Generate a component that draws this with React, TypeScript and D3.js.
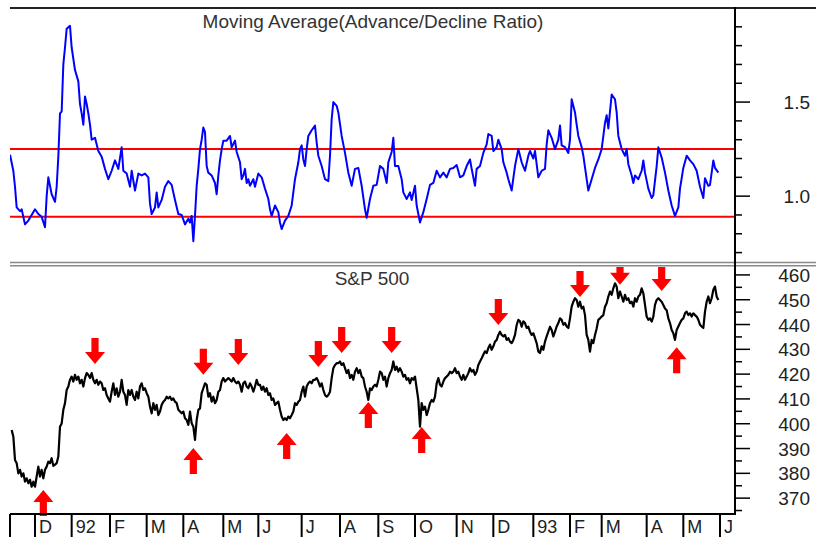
import React from "react";
import * as d3 from "d3";

// Moving average of the advance/decline ratio: [trading session, ratio]
const adPoints: [number, number][] = [
  [-1, 1.22], [1, 1.135], [2, 1.05], [3, 0.94], [5, 0.92], [6, 0.93], [8, 0.85], [10, 0.87], [12, 0.9], [14, 0.93],
  [16, 0.905], [18, 0.89], [20, 0.835], [21, 1.0], [22, 1.1], [24, 1.01], [26, 0.97], [27, 1.05], [28, 1.21], [29, 1.44],
  [30, 1.45], [31, 1.7], [32, 1.79], [33, 1.89], [35, 1.905], [36, 1.79], [38, 1.67], [40, 1.61], [41, 1.49], [42, 1.44],
  [43, 1.38], [44, 1.53], [45, 1.49], [46, 1.44], [47, 1.38], [48, 1.3], [50, 1.31], [52, 1.24], [54, 1.21], [56, 1.145],
  [58, 1.09], [60, 1.135], [62, 1.19], [64, 1.145], [66, 1.26], [67, 1.135], [69, 1.12], [71, 1.05], [72, 1.135], [74, 1.03],
  [76, 1.12], [78, 1.11], [80, 1.12], [82, 1.1], [83, 0.96], [84, 0.905], [86, 0.94], [87, 1.02], [88, 0.94], [90, 0.98],
  [92, 1.05], [94, 1.08], [96, 1.06], [98, 0.98], [100, 0.905], [102, 0.9], [104, 0.85],
  [106, 0.88], [107, 0.86], [108, 0.895], [109, 0.76], [110, 0.895], [111, 1.055], [112, 1.145], [113, 1.25], [114, 1.3], [115, 1.365],
  [116, 1.34], [117, 1.16], [118, 1.125], [120, 1.11], [122, 1.07], [123, 1.01], [124, 1.11], [125, 1.19], [126, 1.25], [127, 1.295],
  [129, 1.295], [131, 1.32], [132, 1.26], [134, 1.295], [135, 1.235], [137, 1.18], [138, 1.09], [139, 1.11], [140, 1.145], [141, 1.07],
  [142, 1.09], [143, 1.055], [145, 1.09], [146, 1.05], [148, 1.12], [150, 1.1], [152, 1.04], [154, 0.985], [155, 0.93], [156, 0.895],
  [158, 0.95], [160, 0.915], [161, 0.86], [162, 0.825], [164, 0.87], [166, 0.895], [168, 0.95], [170, 1.09], [172, 1.18], [173, 1.25],
  [174, 1.27], [175, 1.195], [176, 1.16], [177, 1.25], [178, 1.32], [180, 1.35], [182, 1.375], [183, 1.285], [184, 1.215], [186, 1.16],
  [188, 1.09], [190, 1.08], [191, 1.215], [192, 1.41], [193, 1.5], [195, 1.48], [196, 1.445], [198, 1.32], [200, 1.23], [202, 1.125],
  [204, 1.055], [206, 1.145], [208, 1.15], [210, 1.055], [212, 0.93],
  [213, 0.885], [215, 0.985], [217, 1.055], [219, 1.06], [221, 1.16], [223, 1.145], [225, 1.07], [226, 1.18], [228, 1.235], [229, 1.31],
  [230, 1.16], [232, 1.16], [234, 1.09], [235, 1.02], [237, 0.985], [239, 1.02], [240, 0.98], [242, 1.055], [243, 0.95], [245, 0.86],
  [247, 0.915], [249, 0.985], [251, 1.06], [253, 1.07], [255, 1.135], [257, 1.1], [259, 1.125], [261, 1.1], [263, 1.145], [265, 1.15],
  [267, 1.165], [269, 1.1], [271, 1.11], [273, 1.16], [275, 1.195], [276, 1.145], [278, 1.055], [279, 1.145], [281, 1.16], [283, 1.23],
  [285, 1.275], [286, 1.33], [288, 1.32], [289, 1.24], [291, 1.26], [292, 1.3], [294, 1.25], [295, 1.18], [297, 1.125], [298, 1.09],
  [300, 1.03], [302, 1.16], [304, 1.25], [306, 1.18], [308, 1.135], [310, 1.215], [311, 1.24], [313, 1.2], [314, 1.24], [316, 1.1],
  [318, 1.135], [320, 1.145], [321, 1.275], [322, 1.35],
  [324, 1.31], [326, 1.25], [328, 1.3], [329, 1.375], [330, 1.27], [332, 1.26], [334, 1.23], [335, 1.3], [336, 1.515], [338, 1.445],
  [339, 1.38], [340, 1.32], [342, 1.26], [343, 1.215], [345, 1.09], [346, 1.03], [348, 1.09], [350, 1.15], [352, 1.195], [354, 1.25],
  [356, 1.39], [357, 1.43], [358, 1.36], [360, 1.54], [362, 1.515], [363, 1.445], [364, 1.32], [366, 1.25], [368, 1.215], [369, 1.25],
  [370, 1.17], [372, 1.11], [373, 1.07], [374, 1.11], [376, 1.09], [378, 1.135], [379, 1.19], [380, 1.125], [382, 1.04], [384, 0.99],
  [385, 1.005], [387, 1.16], [388, 1.26], [390, 1.205], [392, 1.125], [394, 1.03], [396, 0.95], [398, 0.895], [400, 0.94], [401, 1.04],
  [403, 1.15], [405, 1.215], [407, 1.19], [409, 1.17], [411, 1.135], [413, 1.05], [415, 0.99], [416, 1.095], [418, 1.055], [419, 1.06],
  [421, 1.19], [422, 1.15], [424, 1.125],
];

// S&P 500 daily closes, one per trading session starting at session 0
const spxCloses: number[] = [
  397.5, 394.8, 385.4, 384.1, 380.0, 381.4, 378.7, 380.0, 376.7, 378.0,
  376.0, 377.4, 374.6, 376.7, 374.6, 378.7, 382.7, 378.7, 381.4, 378.0,
  381.4, 382.7, 384.7, 384.1, 386.1, 383.0, 383.5, 384.1, 386.8, 398.8,
  400.1, 405.6, 408.3, 413.6, 415.0, 417.7, 419.0, 417.0, 419.7, 417.7,
  419.0, 416.3, 417.7, 415.0, 418.4, 420.4, 419.7, 418.4, 420.4, 417.7,
  416.3, 417.7, 415.7, 417.0, 416.3, 413.6, 414.3, 411.6, 410.2, 408.9,
  412.9, 416.3, 411.6, 414.3, 410.9, 412.9, 417.7, 412.9, 411.6, 407.6,
  413.6, 411.6, 413.6, 410.9, 409.6, 412.9, 410.2, 415.0, 416.3, 413.6,
  414.3, 412.3, 410.9, 406.9, 404.2, 408.3, 405.6, 407.6, 403.5, 404.9,
  407.6, 408.9, 409.6, 410.9, 410.2, 410.9, 409.6, 410.2, 408.9, 408.3,
  405.6, 404.9, 404.2, 404.9, 402.2, 401.5, 399.5,
  404.9, 400.2, 398.8, 393.5, 401.5, 405.6, 406.2, 412.3, 414.3, 416.3,
  415.7, 410.9, 412.3, 408.9, 410.9, 408.3, 409.6, 412.9, 413.6, 417.0,
  418.4, 417.0, 417.7, 418.4, 417.7, 417.0, 418.4, 417.0, 416.3, 417.0,
  415.7, 412.9, 416.3, 417.0, 415.0, 414.3, 416.3, 415.0, 412.9, 415.0,
  417.7, 415.7, 415.7, 413.6, 415.0, 412.9, 414.3, 411.6, 412.3, 409.6,
  410.2, 407.6, 408.3, 408.9, 405.6, 402.9, 401.5, 402.2, 401.5, 402.9,
  402.2, 403.5, 404.9, 408.3, 407.6, 408.9, 409.6, 412.9, 415.0, 410.9,
  415.0, 416.3, 417.0, 416.3, 417.7, 417.7, 418.4, 417.0, 415.0, 416.3,
  413.6, 411.6, 410.9, 411.6, 412.9, 418.4, 422.4, 423.7, 424.4, 424.4,
  425.1, 423.7, 424.4, 422.4, 420.4, 421.7, 418.4, 419.7, 417.7, 421.0,
  422.4, 420.4, 421.7, 419.0, 418.4, 415.0, 412.9, 409.6,
  414.3, 413.6, 415.0, 415.7, 415.0, 417.7, 421.0, 420.4, 417.7, 419.0,
  415.0, 418.4, 420.4, 421.7, 425.1, 421.7, 423.0, 421.0, 422.4, 421.0,
  419.0, 419.7, 417.7, 418.4, 416.3, 418.4, 417.7, 419.0, 414.3, 409.6,
  398.8, 408.3, 405.6, 406.9, 403.5, 405.6, 408.3, 409.6, 408.9, 410.9,
  416.3, 418.4, 415.7, 415.0, 417.0, 418.4, 419.0, 419.7, 421.0, 420.4,
  421.0, 422.4, 420.4, 421.0, 419.0, 417.7, 419.7, 417.7, 419.0, 420.4,
  422.4, 421.0, 421.7, 419.7, 421.0, 423.7, 425.1, 426.4, 427.8, 429.2,
  428.5, 430.5, 431.9, 429.8, 431.2, 433.1, 433.8, 435.8, 437.1, 435.8,
  435.2, 435.8, 433.8, 434.5, 433.1, 432.5, 433.8, 435.8, 439.8, 441.9,
  441.3, 439.1, 441.3, 440.6, 438.6, 439.1, 437.1, 435.8, 436.5, 434.5,
  432.5, 429.1, 428.5, 431.2, 429.8, 433.1, 435.2, 437.1, 439.1,
  437.8, 435.2, 437.1, 439.2, 440.6, 442.5, 441.9, 439.9, 440.6, 439.2,
  438.6, 442.5, 447.2, 449.2, 450.6, 449.9, 447.2, 449.2, 446.5, 447.2,
  443.8, 435.8, 433.8, 429.1, 433.8, 432.5, 435.8, 438.4, 441.9, 442.5,
  443.2, 443.8, 447.2, 448.6, 451.3, 453.3, 452.0, 454.6, 456.6, 455.3,
  450.6, 453.3, 451.3, 449.2, 452.0, 449.9, 450.6, 448.6, 449.2, 447.2,
  450.6, 449.2, 451.3, 452.0, 454.6, 452.6, 447.9, 443.2, 441.9, 442.5,
  441.2, 443.2, 447.9, 449.9, 450.6, 449.9, 449.2, 447.9, 446.5, 445.8,
  442.5, 440.6, 437.8, 436.5, 433.8, 437.8, 439.2, 440.6, 441.9, 442.5,
  444.5, 445.2, 443.8, 444.5, 443.2, 444.5, 443.8, 443.2, 441.9, 439.9,
  439.2, 438.6, 445.2, 449.2, 451.3, 448.6, 450.6, 454.0, 455.3, 451.3,
  449.9,
];

const monthLabels = ["", "D", "92", "F", "M", "A", "M", "J", "J", "A", "S", "O", "N", "D", "93", "F", "M", "A", "M", "J"];
const monthSessions = [-1, 14, 36, 59, 81, 103, 127, 148, 174, 197, 220, 242, 267, 289, 313, 335, 354, 381, 403, 425];

const ratioMajorTicks = [1.0, 1.5];
const ratioMajorLabels = ["1.0", "1.5"];
const ratioMinorTicks = [0.7, 0.8, 0.9, 1.1, 1.2, 1.3, 1.4, 1.6, 1.7, 1.8, 1.9];
const ratioBands = [0.89, 1.25];

const priceMajorTicks = [370, 380, 390, 400, 410, 420, 430, 440, 450, 460];
const priceMajorLabels = ["370", "380", "390", "400", "410", "420", "430", "440", "450", "460"];
const priceMinorTicks = [365, 375, 385, 395, 405, 415, 425, 435, 445, 455];

const sellSessions = [50, 115, 136, 184, 198, 228, 292, 341, 365, 390];
const sellPrices = [424.1, 419.7, 423.7, 422.9, 428.5, 428.5, 439.8, 451.1, 456.0, 453.5];
const buySessions = [19, 109, 165, 214, 246, 399];
const buyPrices = [373.3, 390.2, 396.3, 408.8, 398.7, 430.8];

const FONT = "'Liberation Sans', Arial, sans-serif";

function arrowPath(cx: number, tip: number, dir: 1 | -1): string {
  // dir = 1 -> pointing down (tip below), dir = -1 -> pointing up
  const total = 26, head = 12, hw = 10, sw = 3.6;
  const tail = tip - dir * total;
  const neck = tip - dir * head;
  return `M${cx - sw},${tail}L${cx + sw},${tail}L${cx + sw},${neck}L${cx + hw},${neck}L${cx},${tip}L${cx - hw},${neck}L${cx - sw},${neck}Z`;
}

export default function App() {
  const W = 826, H = 537;
  const left = 10, right = 735;
  const x = d3.scaleLinear().domain([-1, 434]).range([left, right]);
  const yTop = d3.scaleLinear().domain([0.65, 2.0]).range([262, 8]);
  const yBot = d3.scaleLinear().domain([363.6, 464]).range([514, 265]);

  const adLine = d3.line<[number, number]>().x((d) => x(d[0])).y((d) => yTop(d[1]));
  const spxLine = d3.line<number>().x((_, i) => x(i)).y((d) => yBot(d));

  return (
    <svg width={W} height={H} style={{ position: "absolute", left: 0, top: 0, background: "#fff" }}>
      <defs>
        <clipPath id="clipTop"><rect x={left} y={9} width={right - left} height={252} /></clipPath>
        <clipPath id="clipBot"><rect x={left} y={267} width={right - left} height={246} /></clipPath>
        <clipPath id="clipArrows"><rect x={0} y={267} width={right} height={H - 267} /></clipPath>
      </defs>
      <rect x={0} y={0} width={W} height={H} fill="#fff" />

      {/* top panel */}
      <g clipPath="url(#clipTop)">
        {ratioBands.map((b) => (
          <line key={b} x1={left} x2={right} y1={yTop(b)} y2={yTop(b)} stroke="#ff0000" strokeWidth={2} />
        ))}
        <path d={adLine(adPoints) || ""} fill="none" stroke="#0000ff" strokeWidth={2} strokeLinejoin="round" />
      </g>
      <text x={373} y={28} textAnchor="middle" fontFamily={FONT} fontSize={19} fill="#333">
        Moving Average(Advance/Decline Ratio)
      </text>

      {/* bottom panel */}
      <g clipPath="url(#clipBot)">
        <path d={spxLine(spxCloses) || ""} fill="none" stroke="#000" strokeWidth={2.2} strokeLinejoin="round" />
      </g>
      <text x={372} y={285} textAnchor="middle" fontFamily={FONT} fontSize={19} fill="#333">
        S&amp;P 500
      </text>

      <g clipPath="url(#clipArrows)" fill="#ff0000">
        {sellSessions.map((s, i) => (
          <path key={"s" + i} d={arrowPath(x(s), yBot(sellPrices[i]), 1)} />
        ))}
        {buySessions.map((s, i) => (
          <path key={"b" + i} d={arrowPath(x(s), yBot(buyPrices[i]), -1)} />
        ))}
      </g>

      {/* frame */}
      <line x1={left} x2={816} y1={8} y2={8} stroke="#222" strokeWidth={2} />
      <line x1={left} x2={816} y1={262.5} y2={262.5} stroke="#888" strokeWidth={1.6} />
      <line x1={left} x2={816} y1={265.8} y2={265.8} stroke="#888" strokeWidth={1.6} />
      <line x1={right} x2={right} y1={7} y2={515} stroke="#000" strokeWidth={2} />
      <line x1={left} x2={right + 1} y1={514} y2={514} stroke="#000" strokeWidth={2} />

      {/* right axis, top panel */}
      {ratioMinorTicks.map((t) => (
        <line key={"rm" + t} x1={right} x2={742} y1={yTop(t)} y2={yTop(t)} stroke="#000" strokeWidth={1.5} />
      ))}
      {ratioMajorTicks.map((t, i) => (
        <g key={"rM" + t}>
          <line x1={right} x2={750} y1={yTop(t)} y2={yTop(t)} stroke="#000" strokeWidth={1.5} />
          <text x={810} y={yTop(t) + 7} textAnchor="end" fontFamily={FONT} fontSize={19} fill="#222">
            {ratioMajorLabels[i]}
          </text>
        </g>
      ))}

      {/* right axis, bottom panel */}
      {priceMinorTicks.map((t) => (
        <line key={"pm" + t} x1={right} x2={742} y1={yBot(t)} y2={yBot(t)} stroke="#000" strokeWidth={1.5} />
      ))}
      {priceMajorTicks.map((t, i) => (
        <g key={"pM" + t}>
          <line x1={right} x2={750} y1={yBot(t)} y2={yBot(t)} stroke="#000" strokeWidth={1.5} />
          <text x={810} y={yBot(t) + 7} textAnchor="end" fontFamily={FONT} fontSize={19} fill="#222">
            {priceMajorLabels[i]}
          </text>
        </g>
      ))}

      {/* month axis */}
      {monthSessions.map((s, i) => (
        <g key={"m" + i}>
          <line x1={x(s)} x2={x(s)} y1={514} y2={H} stroke="#000" strokeWidth={2} />
          <text x={x(s) + 4} y={532.5} fontFamily={FONT} fontSize={18} fill="#222">
            {monthLabels[i]}
          </text>
        </g>
      ))}
    </svg>
  );
}
